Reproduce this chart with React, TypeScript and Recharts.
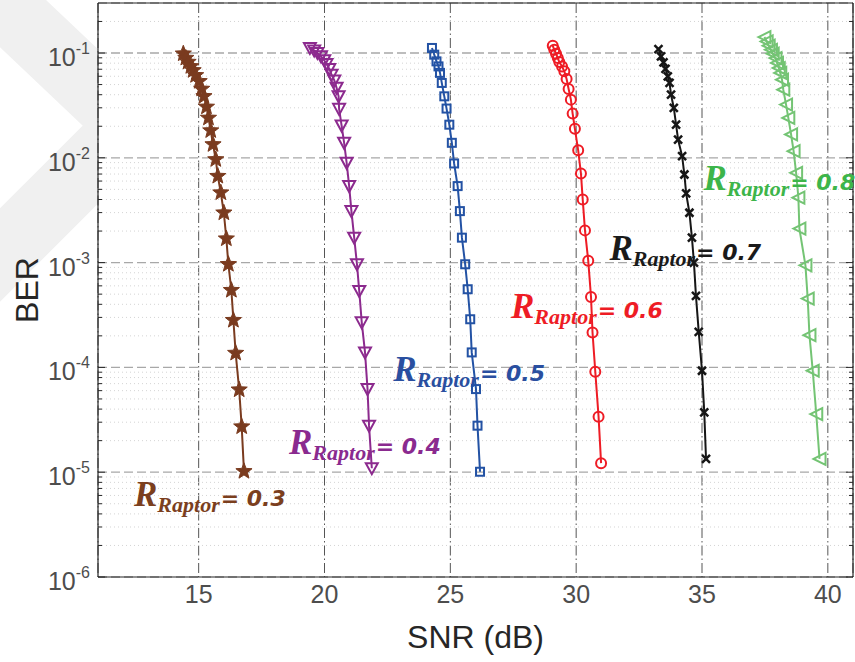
import React from 'react';
import {
  LineChart,
  Line,
  XAxis,
  YAxis,
  CartesianGrid,
  ReferenceLine,
  ReferenceDot,
} from 'recharts';

// SNR (dB) / BER pairs, one pair of arrays per Raptor rate
const snr03 = [14.39, 14.49, 14.58, 14.69, 14.78, 14.88, 15.02, 15.12, 15.21, 15.31, 15.39, 15.48, 15.57, 15.68, 15.76, 15.88, 16.0, 16.1, 16.18, 16.3, 16.38, 16.47, 16.61, 16.71, 16.8];
const ber03 = [0.0984, 0.0895, 0.082, 0.0745, 0.0682, 0.0612, 0.0537, 0.0454, 0.0386, 0.0306, 0.024, 0.0182, 0.0134, 0.00964, 0.00668, 0.00465, 0.00299, 0.00169, 0.000964, 0.000545, 0.000282, 0.000137, 6.12e-5, 2.72e-5, 1.02e-5];

const snr04 = [19.42, 19.59, 19.72, 19.86, 19.99, 20.08, 20.19, 20.28, 20.39, 20.48, 20.56, 20.58, 20.68, 20.78, 20.88, 20.98, 21.07, 21.18, 21.29, 21.38, 21.48, 21.61, 21.71, 21.77, 21.88];
const ber04 = [0.1117, 0.1059, 0.1, 0.0929, 0.0851, 0.0785, 0.0705, 0.0621, 0.0548, 0.0465, 0.0386, 0.0293, 0.0203, 0.0139, 0.00895, 0.00537, 0.0031, 0.00173, 0.000964, 0.000537, 0.000269, 0.000139, 6.21e-5, 2.78e-5, 1.09e-5];

const snr05 = [24.27, 24.36, 24.45, 24.53, 24.59, 24.66, 24.76, 24.85, 24.96, 25.06, 25.15, 25.29, 25.38, 25.46, 25.59, 25.69, 25.79, 25.85, 26.02, 26.08, 26.18];
const ber05 = [0.1117, 0.0964, 0.0832, 0.0745, 0.0646, 0.0518, 0.0386, 0.0295, 0.0207, 0.0139, 0.00883, 0.00537, 0.0031, 0.00173, 0.000964, 0.000557, 0.000288, 0.000139, 6.21e-5, 2.78e-5, 1.01e-5];

const snr06 = [29.07, 29.13, 29.2, 29.27, 29.33, 29.44, 29.53, 29.62, 29.7, 29.79, 29.86, 29.95, 30.08, 30.19, 30.26, 30.35, 30.48, 30.59, 30.65, 30.76, 30.89, 30.99];
const ber06 = [0.1175, 0.1074, 0.0984, 0.0895, 0.082, 0.0745, 0.0668, 0.0565, 0.0454, 0.0359, 0.0264, 0.0189, 0.0118, 0.00708, 0.00401, 0.00203, 0.00104, 0.00047, 0.000215, 9.08e-5, 3.39e-5, 1.22e-5];

const snr07 = [33.27, 33.37, 33.47, 33.55, 33.64, 33.71, 33.77, 33.88, 33.97, 34.05, 34.21, 34.3, 34.37, 34.5, 34.6, 34.68, 34.76, 34.87, 35.0, 35.09, 35.16];
const ber07 = [0.1091, 0.0929, 0.0813, 0.0705, 0.0598, 0.0518, 0.0401, 0.0299, 0.0207, 0.0149, 0.01035, 0.00693, 0.00457, 0.00299, 0.00173, 0.001, 0.000481, 0.000218, 9.29e-5, 3.72e-5, 1.34e-5];

const snr08 = [37.48, 37.57, 37.65, 37.74, 37.81, 37.92, 37.98, 38.05, 38.11, 38.18, 38.23, 38.34, 38.43, 38.54, 38.64, 38.74, 38.83, 38.87, 39.11, 39.2, 39.27, 39.4, 39.54, 39.67];
const ber08 = [0.1419, 0.1291, 0.1175, 0.1074, 0.0984, 0.0895, 0.0804, 0.0719, 0.0646, 0.0557, 0.0447, 0.0322, 0.024, 0.0167, 0.01156, 0.00719, 0.00416, 0.00211, 0.000942, 0.000454, 0.000203, 9.29e-5, 3.59e-5, 1.34e-5];

const xTicks = [15, 20, 25, 30, 35, 40];
const yTicks = [1e-6, 1e-5, 1e-4, 1e-3, 1e-2, 1e-1];
const minorSteps = [2, 3, 4, 5, 6, 7, 8, 9];

// where each "R_Raptor = x" annotation starts (SNR, BER)
const rateNames = ['0.3', '0.4', '0.5', '0.6', '0.7', '0.8'];
const labelSnr = [12.43, 18.59, 22.73, 27.41, 31.32, 35.06];
const labelBer = [4.8e-6, 1.49e-5, 7.36e-5, 2.93e-4, 1.07e-3, 4.89e-3];

const X_MIN = 11;
const X_MAX = 41;
const Y_MIN = 1e-6;
const Y_MAX = 0.3;

type Shape = 'star' | 'tri-down' | 'square' | 'circle' | 'cross' | 'tri-left';

const series: { snr: number[]; ber: number[]; color: string; labelColor: string; shape: Shape }[] = [
  { snr: snr03, ber: ber03, color: '#7a3b1f', labelColor: '#7b3f1e', shape: 'star' },
  { snr: snr04, ber: ber04, color: '#8c2a8e', labelColor: '#8a2a8f', shape: 'tri-down' },
  { snr: snr05, ber: ber05, color: '#2352a4', labelColor: '#2a4fa0', shape: 'square' },
  { snr: snr06, ber: ber06, color: '#ee1c25', labelColor: '#ee1c25', shape: 'circle' },
  { snr: snr07, ber: ber07, color: '#161616', labelColor: '#1a1a1a', shape: 'cross' },
  { snr: snr08, ber: ber08, color: '#74c474', labelColor: '#3db54a', shape: 'tri-left' },
];

const minorValues: number[] = [];
yTicks.forEach((d) => {
  minorSteps.forEach((m) => {
    const v = d * m;
    if (v < Y_MAX) minorValues.push(v);
  });
});

const starPath = (cx: number, cy: number, ro: number, ri: number) => {
  const pts: string[] = [];
  for (let i = 0; i < 10; i++) {
    const r = i % 2 === 0 ? ro : ri;
    const a = -Math.PI / 2 + (i * Math.PI) / 5;
    pts.push(`${cx + r * Math.cos(a)},${cy + r * Math.sin(a)}`);
  }
  return pts.join(' ');
};

const makeDot = (shape: Shape, color: string) => (props: any) => {
  const { cx, cy, index } = props;
  const key = `${shape}-${index}`;
  if (cx == null || cy == null) return <g key={key} />;
  switch (shape) {
    case 'star':
      return <polygon key={key} points={starPath(cx, cy, 8.5, 3.6)} fill={color} stroke={color} strokeWidth={1} />;
    case 'tri-down':
      return (
        <polygon key={key} points={`${cx - 6},${cy - 5} ${cx + 6},${cy - 5} ${cx},${cy + 6}`}
          fill="none" stroke={color} strokeWidth={2} />
      );
    case 'square':
      return <rect key={key} x={cx - 4} y={cy - 4} width={8} height={8} fill="none" stroke={color} strokeWidth={2} />;
    case 'circle':
      return <circle key={key} cx={cx} cy={cy} r={5} fill="none" stroke={color} strokeWidth={2} />;
    case 'cross':
      return (
        <path key={key} d={`M${cx - 4},${cy - 4}L${cx + 4},${cy + 4}M${cx - 4},${cy + 4}L${cx + 4},${cy - 4}`}
          stroke={color} strokeWidth={2.5} />
      );
    case 'tri-left':
    default:
      return (
        <polygon key={key} points={`${cx - 6},${cy} ${cx + 6},${cy - 6} ${cx + 6},${cy + 6}`}
          fill="none" stroke={color} strokeWidth={2} />
      );
  }
};

const YTick = (props: any) => {
  const { x, y, payload } = props;
  const exp = Math.round(Math.log10(payload.value));
  return (
    <text x={x} y={y + 13} textAnchor="end" fill="#4d4d4d" fontFamily="Liberation Sans, Arial, sans-serif" fontSize={25}>
      <tspan>10</tspan>
      <tspan dy={-12} fontSize={16}>{exp}</tspan>
    </text>
  );
};

const XTick = (props: any) => {
  const { x, y, payload } = props;
  return (
    <text x={x} y={y + 26} textAnchor="middle" fill="#4d4d4d" fontFamily="Liberation Sans, Arial, sans-serif" fontSize={25}>
      {payload.value}
    </text>
  );
};

const rateLabel = (name: string, color: string) => (props: any) => {
  const { cx, cy } = props;
  if (cx == null || cy == null) return <g />;
  return (
    <text x={cx} y={cy} fill={color} fontWeight="bold" fontStyle="italic">
      <tspan fontFamily="Liberation Serif, serif" fontSize={35}>R</tspan>
      <tspan fontFamily="Liberation Serif, serif" fontSize={22} dy={6}>Raptor</tspan>
      <tspan fontFamily="DejaVu Sans, sans-serif" fontSize={22} dy={-6} dx={1}>{`= ${name}`}</tspan>
    </text>
  );
};

const Watermark = () => (
  <svg width={855} height={662} style={{ position: 'absolute', left: 0, top: 0 }}>
    <polyline points="-60,-55 130,125 -130,385" fill="none" stroke="#f0f0f0" strokeWidth={66} />
  </svg>
);

export default function App() {
  return (
    <div style={{ position: 'absolute', left: 0, top: 0, width: 855, height: 662, background: '#fff' }}>
      <Watermark />
      <div style={{ position: 'absolute', left: 0, top: 0 }}>
        <LineChart width={855} height={662} margin={{ top: 3, right: 2, left: 0, bottom: 0 }}>
          <CartesianGrid fill="#fff" vertical={false} stroke="#a8a8a8" strokeWidth={1.3} strokeDasharray="9 4" />
          <CartesianGrid horizontal={false} stroke="#555" strokeWidth={1} strokeDasharray="10 3 1.5 3" />
          {minorValues.map((v) => (
            <ReferenceLine key={`mg-${v}`} y={v} stroke="#d4d4d4" strokeWidth={1} strokeDasharray="1 3" />
          ))}
          {minorValues.map((v) => (
            <ReferenceLine key={`ml-${v}`} segment={[{ x: X_MIN, y: v }, { x: X_MIN + 0.16, y: v }]} stroke="#262626" strokeWidth={1} />
          ))}
          {minorValues.map((v) => (
            <ReferenceLine key={`mr-${v}`} segment={[{ x: X_MAX - 0.16, y: v }, { x: X_MAX, y: v }]} stroke="#262626" strokeWidth={1} />
          ))}
          {yTicks.map((v) => (
            <ReferenceLine key={`jl-${v}`} segment={[{ x: X_MIN, y: v }, { x: X_MIN + 0.28, y: v }]} stroke="#262626" strokeWidth={1} />
          ))}
          {yTicks.map((v) => (
            <ReferenceLine key={`jr-${v}`} segment={[{ x: X_MAX - 0.28, y: v }, { x: X_MAX, y: v }]} stroke="#262626" strokeWidth={1} />
          ))}
          <ReferenceLine x={X_MAX} stroke="#262626" strokeWidth={1.2} />
          <ReferenceLine y={Y_MAX} stroke="#262626" strokeWidth={1.2} />
          <XAxis
            dataKey="snr"
            type="number"
            domain={[X_MIN, X_MAX]}
            ticks={xTicks}
            allowDataOverflow
            height={85}
            tickLine={false}
            tickSize={0}
            tickMargin={0}
            axisLine={{ stroke: '#262626', strokeWidth: 1.2 }}
            tick={<XTick />}
            label={{ value: 'SNR (dB)', position: 'insideBottom', offset: 14, fill: '#262626', fontSize: 32, fontFamily: 'Liberation Sans, Arial, sans-serif' }}
          />
          <YAxis
            dataKey="ber"
            scale="log"
            domain={[Y_MIN, Y_MAX]}
            ticks={yTicks}
            allowDataOverflow
            width={98}
            tickLine={false}
            tickSize={0}
            tickMargin={8}
            axisLine={{ stroke: '#262626', strokeWidth: 1.2 }}
            tick={<YTick />}
            label={{ value: 'BER', angle: -90, position: 'insideLeft', offset: 27, fill: '#262626', fontSize: 32, fontFamily: 'Liberation Sans, Arial, sans-serif', style: { textAnchor: 'middle' } }}
          />
          {series.map((s, i) => (
            <Line
              key={rateNames[i]}
              data={s.snr.map((x, j) => ({ snr: x, ber: s.ber[j] }))}
              dataKey="ber"
              type="linear"
              stroke={s.color}
              strokeWidth={2}
              dot={makeDot(s.shape, s.color)}
              activeDot={false}
              isAnimationActive={false}
            />
          ))}
          {series.map((s, i) => (
            <ReferenceDot
              key={`lab-${rateNames[i]}`}
              x={labelSnr[i]}
              y={labelBer[i]}
              r={0}
              shape={rateLabel(rateNames[i], s.labelColor)}
            />
          ))}
        </LineChart>
      </div>
    </div>
  );
}
